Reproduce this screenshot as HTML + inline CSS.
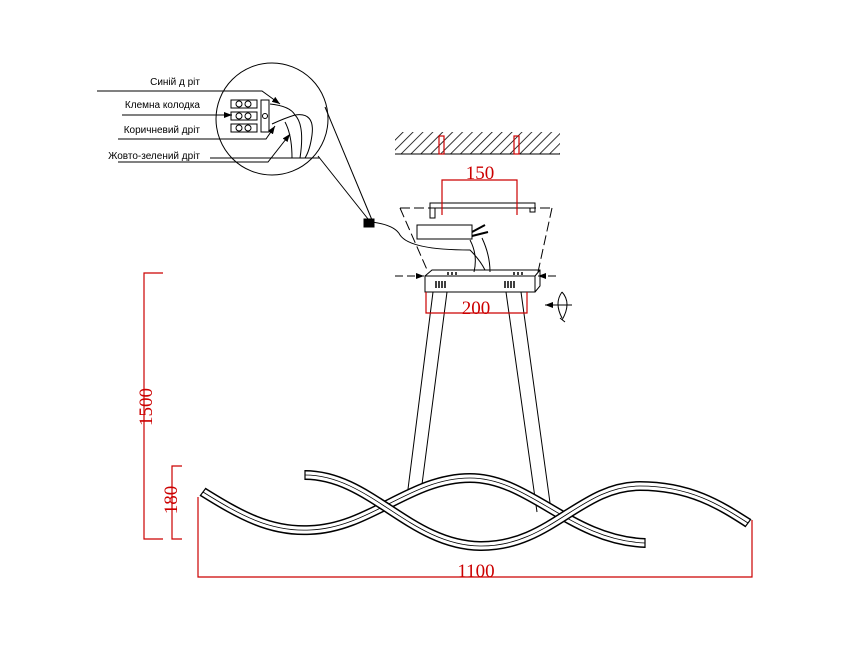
<!DOCTYPE html>
<html><head><meta charset="utf-8"><style>body{margin:0;background:#fff}svg{display:block}</style></head>
<body>
<svg width="866" height="650" viewBox="0 0 866 650" xmlns="http://www.w3.org/2000/svg">
<defs>
<pattern id="h" width="7" height="7" patternUnits="userSpaceOnUse" patternTransform="rotate(45)"><line x1="0" y1="0" x2="0" y2="7" stroke="#000" stroke-width="1.6"/></pattern>
<marker id="a" markerWidth="8" markerHeight="6" refX="8" refY="3" orient="auto"><path d="M0,0L8,3L0,6z" fill="#000"/></marker>
</defs>
<g font-family="Liberation Sans, sans-serif" font-size="10" fill="#000" text-anchor="end">
<text x="200" y="85">Синій д ріт</text>
<text x="200" y="108">Клемна колодка</text>
<text x="200" y="133">Коричневий дріт</text>
<text x="200" y="159">Жовто-зелений дріт</text>
</g>
<g stroke="#000" fill="none" stroke-width="1">
<circle cx="272" cy="119" r="56"/>
<polyline points="97,91 262,91 280,104" marker-end="url(#a)"/>
<line x1="122" y1="115" x2="232" y2="115" marker-end="url(#a)"/>
<polyline points="118,139 266,139 275,126" marker-end="url(#a)"/>
<polyline points="118,162 268,162 290,134" marker-end="url(#a)"/>
<line x1="210" y1="158" x2="320" y2="158"/>
<rect x="231" y="100" width="26" height="8"/><rect x="231" y="112" width="26" height="8"/><rect x="231" y="124" width="26" height="8"/>
<circle cx="239" cy="104" r="3"/><circle cx="248" cy="104" r="3"/><circle cx="239" cy="116" r="3"/><circle cx="248" cy="116" r="3"/><circle cx="239" cy="128" r="3"/><circle cx="248" cy="128" r="3"/>
<rect x="261" y="100" width="8" height="32"/><circle cx="265" cy="116" r="2.5"/>
<path d="M270,104 Q290,106 295,115 Q305,125 300,158"/>
<path d="M272,124 Q285,118 295,115"/>
<path d="M295,115 Q315,112 312,135 Q310,150 305,158"/>
<path d="M285,122 Q292,135 292,158"/>
<line x1="325" y1="107" x2="372" y2="220"/>
<line x1="318" y1="156" x2="372" y2="224"/>
<path d="M372,222 Q395,225 400,235 Q410,250 470,250 Q480,260 485,270" />
<rect x="364" y="219" width="10" height="8" fill="#000"/>
<rect x="395" y="132" width="165" height="22" fill="url(#h)" stroke="none"/>
<line x1="395" y1="154" x2="560" y2="154"/>
<path d="M400,208 L552,208 M400,208 L428,272 M552,208 L538,272" stroke-dasharray="10,4"/>
<line x1="395" y1="276" x2="424" y2="276" stroke-dasharray="8,4" marker-end="url(#a)"/>
<line x1="556" y1="276" x2="538" y2="276" stroke-dasharray="8,4" marker-end="url(#a)"/>
<path d="M430,203 L535,203 L535,212 L530,212 L530,208 L435,208 L435,218 L430,218 Z"/>
<rect x="417" y="225" width="55" height="14"/>
<path d="M472,232 L485,225 M472,236 L488,232" stroke-width="2"/>
<path d="M470,240 Q478,255 474,272 M482,238 Q490,255 490,272"/>
<path d="M425,276 L432,270 L540,270 L540,286 L535,292 M425,276 L535,276 L535,292 L425,292 Z M535,276 L540,270"/>
<g stroke-width="1.5"><path d="M436,281v7M439,281v7M442,281v7M445,281v7M505,281v7M508,281v7M511,281v7M514,281v7M448,272v3M452,272v3M456,272v3M514,272v3M518,272v3M522,272v3"/></g>
<path d="M562,292 Q572,303 562,320 M562,292 Q554,303 562,318 M560,318 L565,322" />
<line x1="572" y1="305" x2="545" y2="305" marker-end="url(#a)"/>
<path d="M433,292 L407,497 M447,292 L421,492 M506,292 L537,512 M521,292 L551,510"/>
</g>
<g stroke="#c00" fill="none" stroke-width="1.2">
<rect x="439" y="136" width="5" height="18"/><rect x="514" y="136" width="5" height="18"/>
<path d="M442,215 L442,180 L517,180 L517,215"/>
<path d="M426,292 L426,313 L527,313 L527,292"/>
<path d="M163,273 L144,273 L144,539 L163,539"/>
<path d="M182,466 L172,466 L172,539 L182,539"/>
<path d="M198,497 L198,577 L752,577 L752,520"/>
</g>
<g fill="#c00" font-family="Liberation Serif, serif" font-size="19" text-anchor="middle">
<text x="480" y="179">150</text>
<text x="476" y="314">200</text>
<text x="476" y="577">1100</text>
<text transform="translate(152,407) rotate(-90)">1500</text>
<text transform="translate(177,500) rotate(-90)">180</text>
</g>
<g fill="none" stroke-linecap="butt">
<path d="M203,492 C240,515 270,532 310,530 C370,528 410,478 470,478 C530,478 570,540 645,543" stroke="#000" stroke-width="10"/>
<path d="M203,492 C240,515 270,532 310,530 C370,528 410,478 470,478 C530,478 570,540 645,543" stroke="#fff" stroke-width="7"/>
<path d="M203,492 C240,515 270,532 310,530 C370,528 410,478 470,478 C530,478 570,540 645,543" stroke="#000" stroke-width="0.8"/>
<path d="M305,475 C370,475 410,545 480,546 C550,547 580,486 640,486 C690,486 720,505 748,523" stroke="#000" stroke-width="10"/>
<path d="M305,475 C370,475 410,545 480,546 C550,547 580,486 640,486 C690,486 720,505 748,523" stroke="#fff" stroke-width="7"/>
<path d="M305,475 C370,475 410,545 480,546 C550,547 580,486 640,486 C690,486 720,505 748,523" stroke="#000" stroke-width="0.8"/>
<g stroke="#000" stroke-width="1.2">
<line x1="200" y1="496" x2="206" y2="488"/>
<line x1="305" y1="470" x2="305" y2="480"/>
<line x1="645" y1="538" x2="645" y2="548"/>
<line x1="745" y1="527" x2="751" y2="519"/>
</g>
</g>
</svg>
</body></html>
